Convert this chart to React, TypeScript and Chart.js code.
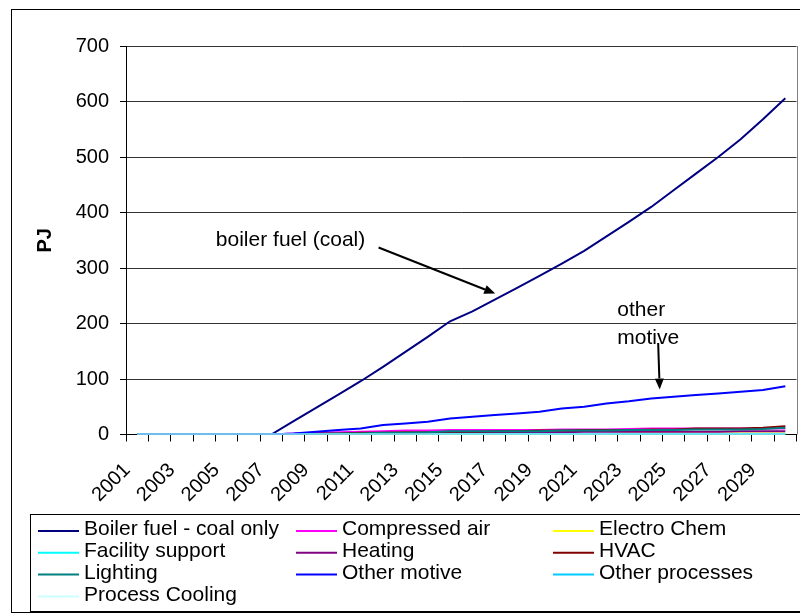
import React, { useEffect, useRef } from 'react';
import { Chart, registerables } from 'chart.js';

Chart.register(...registerables);

const FONT = "'Liberation Sans', Arial, sans-serif";

const years = [
  '2001', '2002', '2003', '2004', '2005', '2006', '2007', '2008', '2009', '2010',
  '2011', '2012', '2013', '2014', '2015', '2016', '2017', '2018', '2019', '2020',
  '2021', '2022', '2023', '2024', '2025', '2026', '2027', '2028', '2029', '2030',
];

const boilerFuel = [0, 0, 0, 0, 0, 0, 0, 24, 48, 72, 96, 122, 149, 176, 204, 222, 243, 264, 286, 308, 331, 357, 383, 410, 440, 470, 500, 532, 568, 606];
const compressedAir = [0, 0, 0, 0, 0, 0, 0, 2, 3, 4, 5, 6, 7, 7, 8, 8, 8, 8, 8, 9, 9, 9, 10, 11, 11, 11, 11, 11, 11, 11];
const electroChem = [0, 0, 0, 0, 0, 0, 0, 0, 0, 0, 1, 1, 1, 1, 1, 1, 1, 1, 1, 1, 1, 1, 2, 2, 2, 2, 2, 2, 2, 2];
const facilitySupport = [0, 0, 0, 0, 0, 0, 0, 0, 0, 0, 0, 1, 1, 1, 1, 1, 1, 1, 1, 1, 1, 1, 1, 1, 1, 1, 1, 1, 1, 1];
const heating = [0, 0, 0, 0, 0, 0, 0, 1, 1, 1, 2, 2, 2, 3, 4, 4, 4, 4, 4, 4, 5, 5, 5, 5, 5, 5, 5, 6, 6, 6];
const hvac = [0, 0, 0, 0, 0, 0, 0, 1, 2, 2, 3, 3, 4, 4, 5, 5, 6, 6, 7, 7, 8, 8, 8, 9, 9, 11, 11, 11, 12, 15];
const lighting = [0, 0, 0, 0, 0, 0, 0, 1, 1, 2, 2, 3, 3, 4, 6, 6, 6, 6, 6, 7, 7, 7, 8, 8, 8, 9, 9, 9, 10, 12];
const otherMotive = [0, 0, 0, 0, 0, 0, 0, 2, 5, 8, 11, 17, 20, 23, 29, 32, 35, 38, 41, 47, 50, 56, 60, 65, 68, 71, 74, 77, 80, 87];
const otherProcesses = [0, 0, 0, 0, 0, 0, 0, 0, 0, 0, 0, 0, 0, 0, 1, 1, 1, 1, 1, 1, 1, 1, 1, 1, 1, 1, 1, 1, 1, 1];
const processCooling = [0, 0, 0, 0, 0, 0, 0, 0, 0, 0, 0, 0, 0, 0, 0, 0, 0, 0, 0, 0, 0, 0, 0, 0, 0, 0, 0, 0, 0, 0];

const seriesLabels = [
  'Boiler fuel - coal only', 'Compressed air', 'Electro Chem', 'Facility support', 'Heating',
  'HVAC', 'Lighting', 'Other motive', 'Other processes', 'Process Cooling',
];
const seriesData = [
  boilerFuel, compressedAir, electroChem, facilitySupport, heating,
  hvac, lighting, otherMotive, otherProcesses, processCooling,
];
const seriesColors = [
  '#000080', '#FF00FF', '#FFFF00', '#00FFFF', '#800080',
  '#800000', '#008080', '#0000FF', '#00CCFF', '#CCFFFF',
];

const yTicks = [0, 100, 200, 300, 400, 500, 600, 700];
const yTitle = 'PJ';

// annotations, positioned in data coordinates (category index, PJ)
const textNotes = [
  { text: 'boiler fuel (coal)', x: 3.52, y: 339 },
  { text: 'other', x: 21.48, y: 214 },
  { text: 'motive', x: 21.48, y: 163 },
];
const arrowNotes = [
  { x1: 10.8, y1: 337, x2: 16.02, y2: 254 },
  { x1: 23.31, y1: 165, x2: 23.38, y2: 81 },
];

const decorPlugin = {
  id: 'decor',
  beforeDraw(chart: any) {
    const { ctx, width, height } = chart;
    ctx.save();
    ctx.fillStyle = '#fff';
    ctx.fillRect(0, 0, width, height);
    ctx.restore();
  },
  beforeDatasetsDraw(chart: any) {
    const { ctx, chartArea: a } = chart;
    ctx.save();
    ctx.strokeStyle = '#808080';
    ctx.lineWidth = 1;
    const rx = Math.round(a.right) + 0.5;
    ctx.beginPath();
    ctx.moveTo(rx, a.top);
    ctx.lineTo(rx, a.bottom);
    ctx.stroke();
    ctx.restore();
  },
  afterDraw(chart: any) {
    const { ctx } = chart;
    const xs = chart.scales.x;
    const ys = chart.scales.y;
    ctx.save();
    // outer frame
    ctx.strokeStyle = '#000';
    ctx.lineWidth = 1;
    ctx.strokeRect(11.5, 9.5, 800, 603);

    // annotation texts
    ctx.fillStyle = '#000';
    ctx.font = `21px ${FONT}`;
    ctx.textAlign = 'left';
    ctx.textBaseline = 'alphabetic';
    textNotes.forEach((n) => {
      ctx.fillText(n.text, xs.getPixelForValue(n.x), ys.getPixelForValue(n.y));
    });
    // arrows
    arrowNotes.forEach((n) => {
      const x1 = xs.getPixelForValue(n.x1);
      const y1 = ys.getPixelForValue(n.y1);
      const x2 = xs.getPixelForValue(n.x2);
      const y2 = ys.getPixelForValue(n.y2);
      const ang = Math.atan2(y2 - y1, x2 - x1);
      const hl = 11;
      const hw = 4.5;
      const bx = x2 - hl * Math.cos(ang);
      const by = y2 - hl * Math.sin(ang);
      ctx.strokeStyle = '#000';
      ctx.lineWidth = 2;
      ctx.beginPath();
      ctx.moveTo(x1, y1);
      ctx.lineTo(bx, by);
      ctx.stroke();
      ctx.beginPath();
      ctx.moveTo(x2, y2);
      ctx.lineTo(bx + hw * Math.sin(ang), by - hw * Math.cos(ang));
      ctx.lineTo(bx - hw * Math.sin(ang), by + hw * Math.cos(ang));
      ctx.closePath();
      ctx.fillStyle = '#000';
      ctx.fill();
    });

    // legend box
    ctx.strokeStyle = '#000';
    ctx.lineWidth = 1;
    ctx.strokeRect(30.5, 514.5, 800, 97);
    const colX = [38, 296, 553];
    const rowY = [529.5, 551.3, 573.1, 594.9];
    ctx.font = `21px ${FONT}`;
    ctx.textBaseline = 'middle';
    chart.data.datasets.forEach((ds: any, i: number) => {
      const c = i % 3;
      const r = Math.floor(i / 3);
      const lx = colX[c];
      const ly = rowY[r];
      ctx.strokeStyle = ds.borderColor;
      ctx.lineWidth = 2;
      ctx.beginPath();
      ctx.moveTo(lx, ly + 1.5);
      ctx.lineTo(lx + 41, ly + 1.5);
      ctx.stroke();
      ctx.fillStyle = '#000';
      ctx.fillText(ds.label, lx + 46, ly);
    });
    ctx.restore();
  },
};

export default function App() {
  const ref = useRef<HTMLCanvasElement | null>(null);
  useEffect(() => {
    if (!ref.current) return;
    const n = seriesData.length;
    const chart = new Chart(ref.current, {
      type: 'line',
      data: {
        labels: years,
        datasets: seriesData.map((d, i) => ({
          label: seriesLabels[i],
          data: d,
          borderColor: seriesColors[i],
          backgroundColor: seriesColors[i],
          borderWidth: 2,
          pointRadius: 0,
          tension: 0,
          fill: false,
          order: n - i,
        })),
      },
      options: {
        responsive: false,
        animation: false,
        devicePixelRatio: 1,
        layout: { padding: { top: 46, right: 3.5, left: 0, bottom: 0 } },
        plugins: { legend: { display: false }, tooltip: { enabled: false }, title: { display: false } },
        scales: {
          x: {
            type: 'category',
            offset: true,
            grid: { display: true, drawOnChartArea: false, drawTicks: true, tickLength: 7, offset: true, color: '#000', tickColor: '#000' },
            border: { display: true, color: '#000', width: 1 },
            ticks: {
              autoSkip: false,
              maxRotation: 45,
              minRotation: 45,
              padding: 17,
              labelOffset: -10,
              color: '#000',
              font: { size: 20, family: FONT },
              callback: function (this: any, val: any, idx: number) {
                return idx % 2 === 0 ? this.getLabelForValue(val) : '';
              },
            },
            afterFit: (s: any) => { s.height = 180.5; s.paddingLeft = 0; s.paddingRight = 0; },
          },
          y: {
            min: 0,
            max: 700,
            afterBuildTicks: (s: any) => { s.ticks = yTicks.map((v) => ({ value: v })); },
            grid: { color: '#333', lineWidth: 1, drawTicks: true, tickLength: 6, tickColor: '#000' },
            border: { display: true, color: '#000', width: 1 },
            ticks: { padding: 11, color: '#000', font: { size: 20, family: FONT } },
            title: { display: true, text: yTitle, color: '#000', font: { size: 20, family: FONT, weight: 'bold' }, padding: { top: 33, bottom: 0 } },
            afterFit: (s: any) => { s.width = 126; },
          },
        },
      },
      plugins: [decorPlugin],
    } as any);
    return () => chart.destroy();
  }, []);
  return (
    <div style={{ position: 'absolute', left: 0, top: 0, width: 800, height: 615 }}>
      <canvas ref={ref} width={800} height={615} style={{ display: 'block' }} />
    </div>
  );
}
